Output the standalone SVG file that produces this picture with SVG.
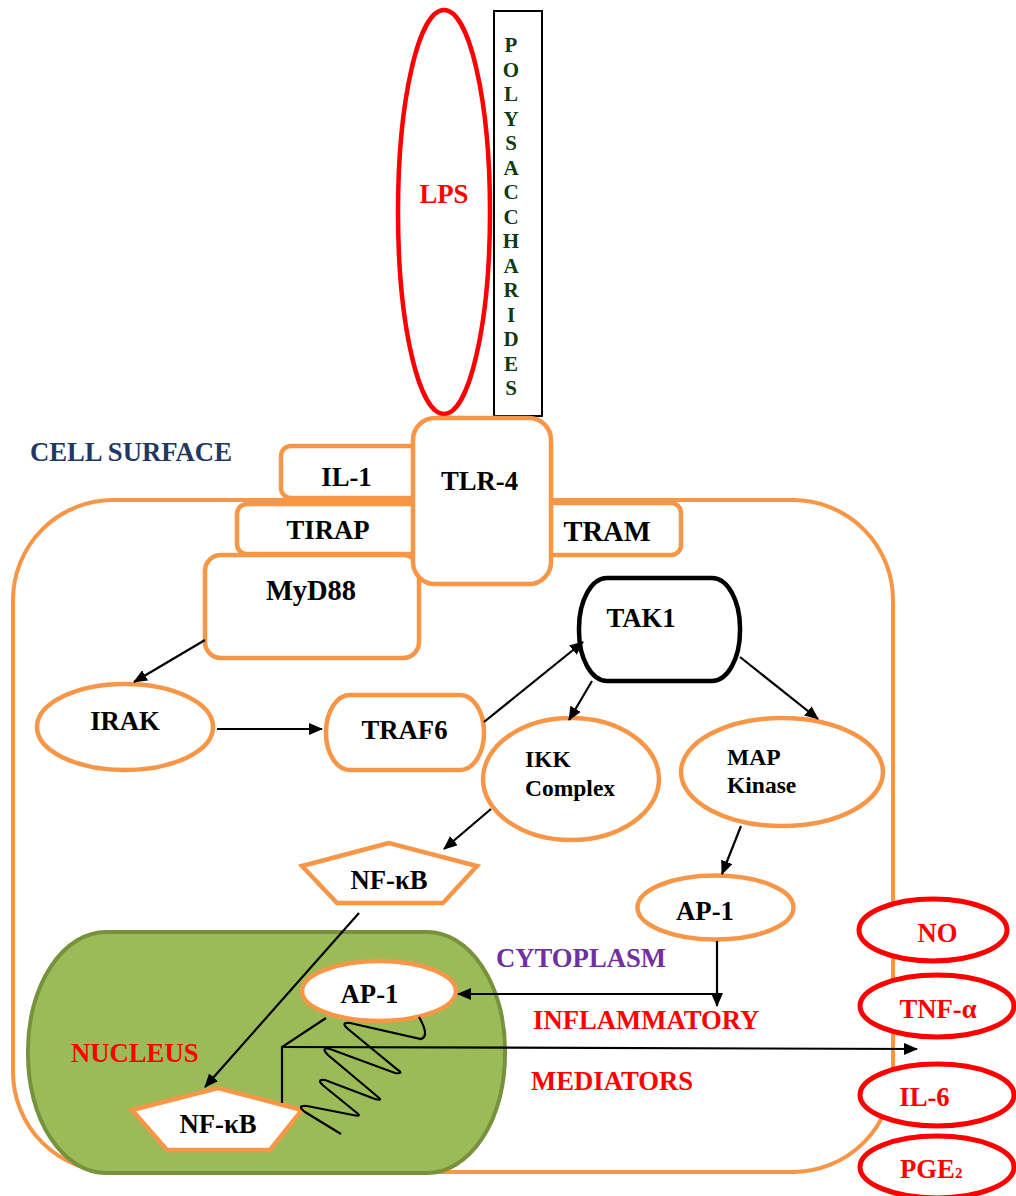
<svg xmlns="http://www.w3.org/2000/svg" width="1016" height="1196" viewBox="0 0 1016 1196">
<style>
text{font-family:"Liberation Serif","Times New Roman",serif;font-weight:bold;font-size:26.7px;fill:#000}
.c{text-anchor:middle}
.sm{font-size:23.5px}
.org{fill:#fff;stroke:#F79646;stroke-width:4.5}
.red{fill:#fff;stroke:#FF0000;stroke-width:5}
.rt{fill:#FF0000}
.ln{fill:none;stroke:#000;stroke-width:2.2}
.poly{fill:#0E3B12;font-size:21px;text-anchor:middle}
</style>
<defs>
<marker id="ah" viewBox="0 0 14 12" markerWidth="14" markerHeight="12" refX="13" refY="6" orient="auto" markerUnits="userSpaceOnUse">
<path d="M0,0 L14,6 L0,12 z" fill="#000"/>
</marker>
</defs>

<g id="cell">
<rect x="13" y="500" width="880" height="672" rx="100" ry="100" fill="none" stroke="#F79646" stroke-width="4"/>
</g>
<g id="nucleus">
<rect x="28" y="932" width="477" height="241" rx="78" ry="118" fill="#9BBB59" stroke="#76923C" stroke-width="4"/>
<text class="rt" x="71" y="1062">NUCLEUS</text>
</g>
<g id="lps">
<ellipse cx="444" cy="212" rx="46" ry="202" fill="#fff" stroke="#FF0000" stroke-width="4.5"/>
<text class="c rt" x="444" y="203">LPS</text>
</g>
<g id="polysaccharides">
<rect x="494" y="11" width="48" height="405" fill="#fff" stroke="#000" stroke-width="2"/>
<text class="poly" x="511" y="52">P</text>
<text class="poly" x="511" y="76.5">O</text>
<text class="poly" x="511" y="101">L</text>
<text class="poly" x="511" y="125.5">Y</text>
<text class="poly" x="511" y="150">S</text>
<text class="poly" x="511" y="174.5">A</text>
<text class="poly" x="511" y="199">C</text>
<text class="poly" x="511" y="223.5">C</text>
<text class="poly" x="511" y="248">H</text>
<text class="poly" x="511" y="272.5">A</text>
<text class="poly" x="511" y="297">R</text>
<text class="poly" x="511" y="321.5">I</text>
<text class="poly" x="511" y="346">D</text>
<text class="poly" x="511" y="370.5">E</text>
<text class="poly" x="511" y="395">S</text>
</g>
<g id="cell-surface-label">
<text x="30" y="461" style="fill:#1F3864">CELL SURFACE</text>
</g>
<g id="il1">
<rect class="org" x="281" y="446" width="140" height="52" rx="10"/>
<text class="c" x="346.5" y="486">IL-1</text>
</g>
<g id="tirap">
<rect class="org" x="237" y="504" width="184" height="50" rx="10"/>
<text class="c" x="328" y="539">TIRAP</text>
</g>
<g id="myd88">
<rect class="org" x="205" y="555" width="214" height="103" rx="16"/>
<text class="c" x="311" y="600" style="font-size:28.5px">MyD88</text>
</g>
<g id="tram">
<rect class="org" x="540" y="503" width="141" height="52" rx="10"/>
<text class="c" x="607" y="541" style="font-size:28.5px">TRAM</text>
</g>
<g id="tlr4">
<rect class="org" x="413" y="418" width="138" height="166" rx="22"/>
<text class="c" x="479.5" y="490">TLR-4</text>
</g>
<g id="tak1">
<rect x="579" y="578" width="161" height="103" rx="28" ry="50" fill="#fff" stroke="#000" stroke-width="4.5"/>
<text class="c" x="641" y="627">TAK1</text>
</g>
<g id="irak">
<ellipse class="org" cx="125" cy="727" rx="88" ry="43"/>
<text class="c" x="125" y="730">IRAK</text>
</g>
<g id="traf6">
<rect class="org" x="326" y="695" width="158" height="75" rx="24" ry="37"/>
<text class="c" x="404.5" y="739">TRAF6</text>
</g>
<g id="ikk">
<ellipse class="org" cx="571" cy="779" rx="88" ry="61"/>
<text class="sm" x="525" y="767">IKK</text>
<text class="sm" x="525" y="796">Complex</text>
</g>
<g id="mapk">
<ellipse class="org" cx="782" cy="772" rx="101" ry="54"/>
<text class="sm" x="727" y="765">MAP</text>
<text class="sm" x="727" y="793">Kinase</text>
</g>
<g id="nfkb-cyto">
<polygon class="org" points="389,843 302,866 337,903 443,903 477,866"/>
<text class="c" x="389" y="889">NF-κB</text>
</g>
<g id="ap1-cyto">
<ellipse class="org" cx="715.5" cy="907.5" rx="78" ry="32"/>
<text class="c" x="705" y="920">AP-1</text>
</g>
<g id="ap1-nuc">
<ellipse class="org" cx="379" cy="991" rx="77" ry="30"/>
<text class="c" x="369.5" y="1003">AP-1</text>
</g>
<g id="nfkb-nuc">
<polygon class="org" points="218,1088 132,1110 167,1150 270,1150 302,1110"/>
<text class="c" x="218" y="1133">NF-κB</text>
</g>
<g id="labels">
<text x="496" y="967" style="fill:#7030A0">CYTOPLASM</text>
<text class="rt" x="533" y="1029">INFLAMMATORY</text>
<text class="rt" x="531" y="1090">MEDIATORS</text>
</g>
<g id="no">
<ellipse class="red" cx="933" cy="930" rx="74" ry="31"/>
<text class="c rt" x="937.5" y="942">NO</text>
</g>
<g id="tnf">
<ellipse class="red" cx="937" cy="1006" rx="77" ry="31"/>
<text class="c rt" x="938" y="1018">TNF-α</text>
</g>
<g id="il6">
<ellipse class="red" cx="937" cy="1095" rx="77" ry="31"/>
<text class="c rt" x="924.5" y="1106">IL-6</text>
</g>
<g id="pge2">
<ellipse class="red" cx="937" cy="1167" rx="77" ry="31"/>
<text class="rt" x="900" y="1178">PGE<tspan style="font-size:15px">2</tspan></text>
</g>

<g id="connectors">
<line class="ln" x1="205" y1="640" x2="134" y2="682" marker-end="url(#ah)"/>
<line class="ln" x1="217" y1="729" x2="322" y2="729" marker-end="url(#ah)"/>
<line class="ln" x1="484" y1="722" x2="583" y2="642" marker-end="url(#ah)"/>
<line class="ln" x1="592" y1="681" x2="569" y2="720" marker-end="url(#ah)"/>
<line class="ln" x1="740" y1="657" x2="818" y2="719" marker-end="url(#ah)"/>
<line class="ln" x1="491" y1="809" x2="444" y2="849" marker-end="url(#ah)"/>
<line class="ln" x1="741" y1="826" x2="722" y2="874" marker-end="url(#ah)"/>
<line class="ln" x1="359" y1="913" x2="205" y2="1087" marker-end="url(#ah)"/>
<line class="ln" x1="717" y1="941" x2="717" y2="1006" marker-end="url(#ah)"/>
<line class="ln" x1="717" y1="994" x2="458" y2="994" marker-end="url(#ah)"/>
<polyline class="ln" points="326,1018 282,1047 282,1103"/>
<line class="ln" x1="282" y1="1047" x2="917" y2="1049" marker-end="url(#ah)"/>
<path class="ln" d="M419,1017 Q430,1036 421,1039 L350,1023 Q340,1022 348,1029 L398,1070 Q404,1074 395,1073 L330,1049 Q320,1047 328,1055 L378,1097 Q383,1101 375,1099 L325,1080 Q315,1079 325,1087 L357,1113 Q362,1117 353,1115 L307,1106 Q296,1105 305,1112 L341,1134"/>
</g>
</svg>
